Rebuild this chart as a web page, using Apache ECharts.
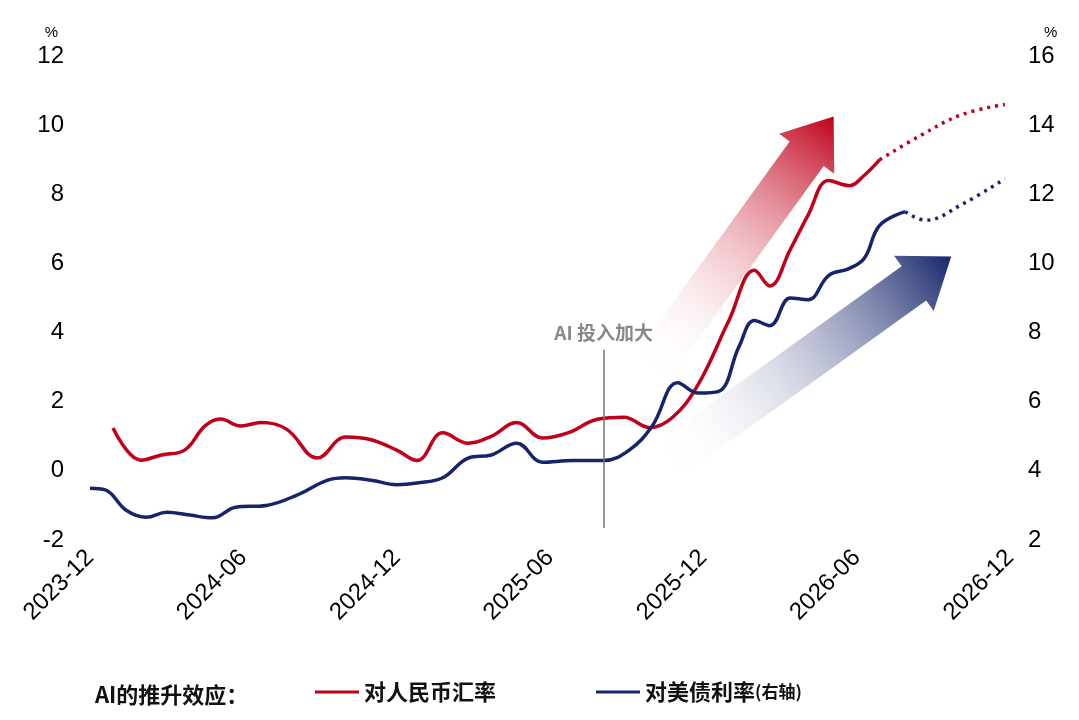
<!DOCTYPE html>
<html>
<head>
<meta charset="utf-8">
<script src="https://cdn.jsdelivr.net/npm/echarts@6/dist/echarts.min.js"></script>
<style>
body{margin:0;background:#fff;}
#chart{width:1079px;height:720px;}
</style>
</head>
<body>
<div id="chart"></div>
<script>
// months counted from 2023-12
var xLabels = {0:'2023-12',6:'2024-06',12:'2024-12',18:'2025-06',24:'2025-12',30:'2026-06',36:'2026-12'};

var cnyMonths = [0.9,2.0,2.8,3.7,4.5,5.1,5.9,6.7,7.7,8.9,10.0,11.0,12.0,12.8,13.8,14.8,15.7,16.7,17.7,18.7,19.9,20.9,21.9,22.8,23.8,25.0,26.0,26.6,27.4,28.1,28.9,29.7,30.3,30.9];
var cnyValues = [1.24,0.31,0.46,0.6,1.3,1.5,1.3,1.4,1.2,0.37,0.98,0.9,0.6,0.3,1.1,0.8,1.0,1.4,0.95,1.1,1.5,1.55,1.25,1.55,2.5,4.35,5.8,5.35,6.4,7.4,8.4,8.25,8.55,9.0];
var cnyFcMonths = [30.9,32.5,34.1,35.8];
var cnyFcValues = [9.0,9.7,10.3,10.6];

var ustMonths = [0,0.6,1.4,2.2,3.0,3.9,4.8,5.7,6.9,8.1,9.3,10.0,11.0,12.0,12.8,13.8,14.8,15.7,16.7,17.7,18.9,20.1,21.1,22.0,23.0,23.8,24.6,25.4,26.0,26.6,27.4,28.1,28.9,29.7,30.3,30.9,31.9];
var ustValues = [3.5,3.45,2.87,2.66,2.8,2.72,2.64,2.95,3.0,3.3,3.73,3.8,3.73,3.6,3.65,3.8,4.37,4.46,4.8,4.25,4.3,4.3,4.6,5.3,6.55,6.25,6.3,7.6,8.35,8.2,9.0,8.95,9.65,9.85,10.15,11.1,11.5];
var ustFcMonths = [31.9,32.7,34.1,35.8];
var ustFcValues = [11.5,11.25,11.7,12.45];

var eventMonth = 20.1;
var RED = '#C0001A', NAVY = '#16256B';

function zip(a,b){return a.map(function(v,i){return [v,b[i]];});}

var chart = echarts.init(document.getElementById('chart'));
var lab = {color:'#000',fontSize:24,fontFamily:'Liberation Sans, Arial, sans-serif'};
chart.setOption({
  animation:false,
  grid:{left:90,right:69,top:56,bottom:180},
  legend:{bottom:12,left:310,itemGap:100,itemWidth:44,itemHeight:3,icon:'rect',
    data:['对人民币汇率','对美债利率'],
    formatter:function(n){return n==='对美债利率'?'{a|对美债利率}{b|(右轴)}':n;},
    textStyle:{fontSize:22,fontWeight:'bold',color:'#111',fontFamily:'Noto Sans CJK SC',
      rich:{a:{fontSize:22,fontWeight:'bold',fontFamily:'Noto Sans CJK SC'},b:{fontSize:17,fontWeight:'bold',fontFamily:'Noto Sans CJK SC'}}}},
  xAxis:{type:'value',min:0,max:36,interval:6,
    axisLine:{show:false},axisTick:{show:false},splitLine:{show:false},
    axisLabel:Object.assign({rotate:45,margin:14,formatter:function(v){return xLabels[v]||'';}},lab)},
  yAxis:[
    {type:'value',min:-2,max:12,interval:2,name:'%',nameGap:16,nameTextStyle:{fontSize:15,color:'#000',align:'right',padding:[0,32,0,0]},
      axisLine:{show:false},axisTick:{show:false},splitLine:{show:false},axisLabel:Object.assign({margin:26},lab)},
    {type:'value',min:2,max:16,interval:2,name:'%',nameGap:16,nameTextStyle:{fontSize:15,color:'#000',align:'left',padding:[0,0,0,34]},
      axisLine:{show:false},axisTick:{show:false},splitLine:{show:false},axisLabel:Object.assign({margin:18},lab)}
  ],
  series:[
    {name:'对人民币汇率',type:'line',smooth:0.4,showSymbol:false,color:RED,lineStyle:{width:3.5},data:zip(cnyMonths,cnyValues),
      markLine:{silent:true,symbol:'none',lineStyle:{color:'#777',width:1.5,type:'solid'},
        label:{show:true,position:'end',formatter:'AI 投入加大',color:'#888',fontSize:19,fontWeight:'bold',fontFamily:'Noto Sans CJK SC',distance:8},
        data:[[{coord:[eventMonth,-1.65]},{coord:[eventMonth,3.5]}]]}},
    {name:'cnyFc',type:'line',smooth:0.4,showSymbol:false,color:RED,lineStyle:{width:3.5,type:[3,5]},data:zip(cnyFcMonths,cnyFcValues)},
    {name:'对美债利率',type:'line',yAxisIndex:1,smooth:0.4,showSymbol:false,color:NAVY,lineStyle:{width:3.5},data:zip(ustMonths,ustValues)},
    {name:'ustFc',type:'line',yAxisIndex:1,smooth:0.4,showSymbol:false,color:NAVY,lineStyle:{width:3.5,type:[3,5]},data:zip(ustFcMonths,ustFcValues)}
  ]
});

// gradient arrows, positioned via the axes
function arrow(tail, head, color){
  var p0 = chart.convertToPixel({xAxisIndex:0,yAxisIndex:0}, tail);
  var p1 = chart.convertToPixel({xAxisIndex:0,yAxisIndex:0}, head);
  var dx=p1[0]-p0[0], dy=p1[1]-p0[1], L=Math.sqrt(dx*dx+dy*dy);
  var ux=dx/L, uy=dy/L, nx=-uy, ny=ux;
  var bw=21, hw=34, hl=46;
  var bx=p1[0]-ux*hl, by=p1[1]-uy*hl;
  var pts=[[p0[0]+nx*bw,p0[1]+ny*bw],[bx+nx*bw,by+ny*bw],[bx+nx*hw,by+ny*hw],p1,
           [bx-nx*hw,by-ny*hw],[bx-nx*bw,by-ny*bw],[p0[0]-nx*bw,p0[1]-ny*bw]];
  return {type:'polygon',z:-1,shape:{points:pts},
    style:{fill:new echarts.graphic.LinearGradient(p0[0],p0[1],p1[0],p1[1],
      [{offset:0,color:'rgba(255,255,255,0)'},{offset:1,color:color}],true)}};
}
chart.setOption({graphic:[
  {type:'text',left:95,bottom:14,style:{text:'AI的推升效应：',fill:'#111',font:'bold 22px "Noto Sans CJK SC"'}},
  arrow([21.9,2.9],[29.1,10.25],RED),
  arrow([22.6,0.3],[33.7,6.2],NAVY)
]});
</script>
</body>
</html>
